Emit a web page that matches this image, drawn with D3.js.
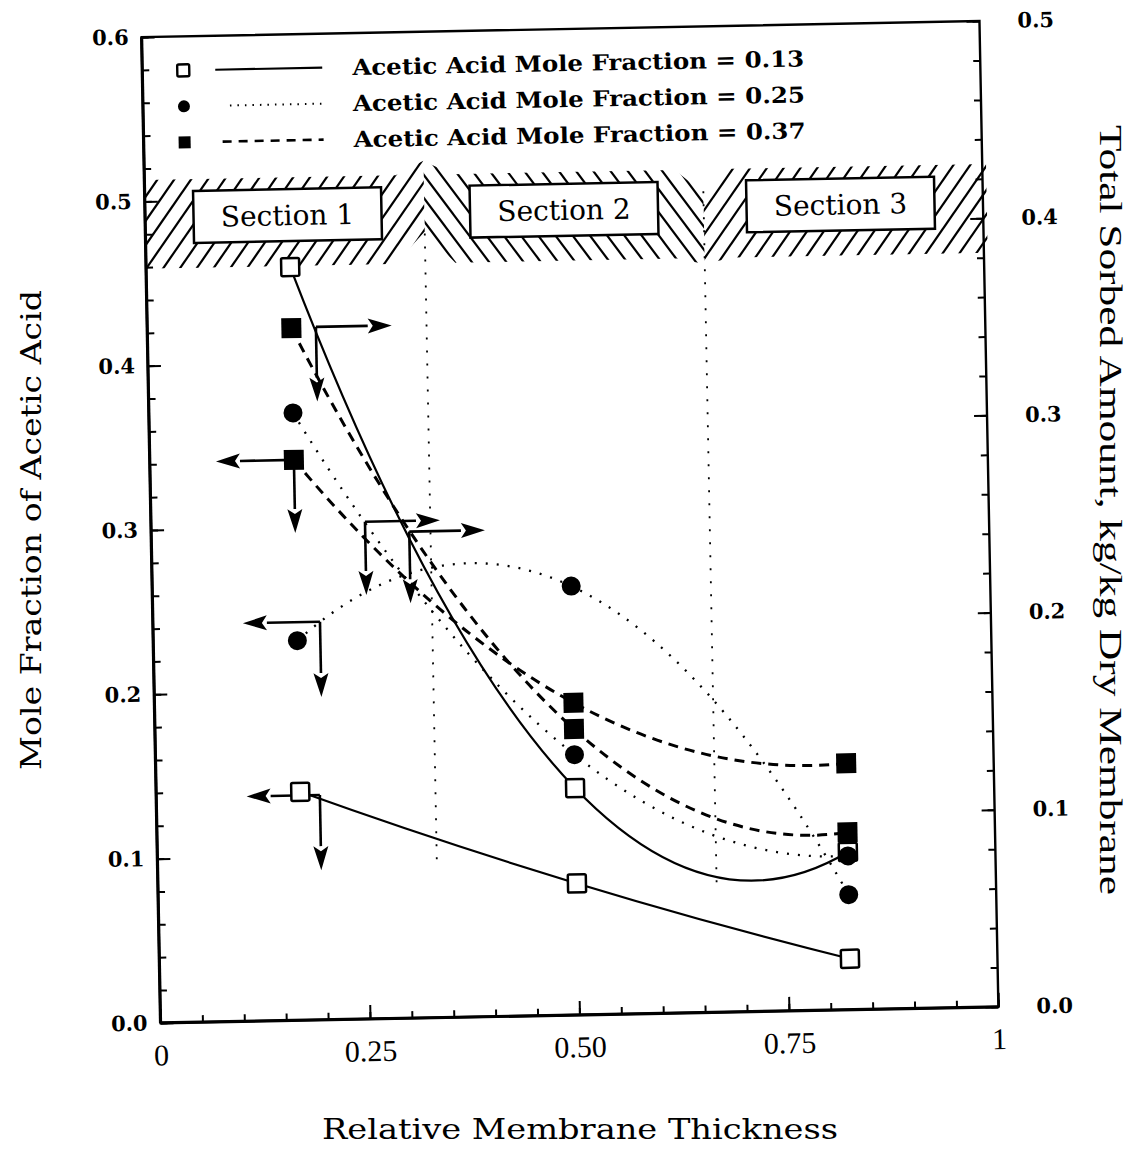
<!DOCTYPE html>
<html>
<head>
<meta charset="utf-8">
<script src="https://cdn.jsdelivr.net/npm/d3@7"></script>
<style>
  html, body { margin: 0; padding: 0; background: #fff; }
  svg { display: block; }
</style>
</head>
<body>
<script>
// ---------------- data ----------------
const relThickness = [0.172, 0.500, 0.824];
// total sorbed amount, kg/kg dry membrane (right axis)
const sorbed013 = [0.382, 0.115, 0.080];
const sorbed025 = [0.308, 0.132, 0.078];
const sorbed037 = [0.351, 0.145, 0.090];
// mole fraction of acetic acid (left axis)
const moleFrac013 = [0.139, 0.080, 0.031];
const moleFrac025 = [0.231, 0.261, 0.070];
const moleFrac037 = [0.341, 0.190, 0.150];

const legendLabels = [
  "Acetic Acid Mole Fraction = 0.13",
  "Acetic Acid Mole Fraction = 0.25",
  "Acetic Acid Mole Fraction = 0.37"
];
const xTickValues = [0, 0.25, 0.5, 0.75, 1];
const xTickLabels = ["0", "0.25", "0.50", "0.75", "1"];
const leftTickValues = [0, 0.1, 0.2, 0.3, 0.4, 0.5, 0.6];
const rightTickValues = [0, 0.1, 0.2, 0.3, 0.4, 0.5];

const sectionNames = ["Section 1", "Section 2", "Section 3"];
const sectionCentres = [0.17, 0.50, 0.83];
const sectionBounds = [1 / 3, 2 / 3];
const boundaryEnds = [0.096, 0.079];   // left-axis value where dotted boundary ends
const bandTop = 0.513, bandBottom = 0.459, sectionLabelLevel = 0.49;

// arrow annotations: corner (x, y on given axis), horizontal tip x, vertical tip y
const arrowNotes = [
  { axis: "R", x: 0.2013, y: 0.3514, hx: 0.2918, vy: 0.3135 },
  { axis: "R", x: 0.3080, y: 0.2467, hx: 0.3983, vy: 0.2104 },
  { axis: "R", x: 0.2554, y: 0.2521, hx: 0.3449, vy: 0.2150 },
  { axis: "L", x: 0.1720, y: 0.3410, hx: 0.0790, vy: 0.2965 },
  { axis: "L", x: 0.1994, y: 0.2422, hx: 0.1074, vy: 0.1964 },
  { axis: "L", x: 0.1953, y: 0.1368, hx: 0.1079, vy: 0.0911 }
];

// ---------------- setup ----------------
const W = 1139, H = 1151;
const svg = d3.select("body").append("svg")
  .attr("width", W).attr("height", H)
  .attr("viewBox", `0 0 ${W} ${H}`);
svg.append("rect").attr("width", W).attr("height", H).attr("fill", "#fff");

const g = svg.append("g").attr("transform", "rotate(-1.1,570,522)");

const x = d3.scaleLinear().domain([0, 1]).range([151, 989]);
const yL = d3.scaleLinear().domain([0, 0.6]).range([1015, 29]);
const yR = d3.scaleLinear().domain([0, 0.5]).range([1015, 29]);

const serif = "'DejaVu Serif', 'Liberation Serif', serif";
const times = "'Liberation Serif', 'DejaVu Serif', serif";

// parabola through three points (quadratic fit curve of the original)
function curveParabola(context) {
  let pts;
  return {
    areaStart() {}, areaEnd() {},
    lineStart() { pts = []; },
    point(px, py) { pts.push([+px, +py]); },
    lineEnd() {
      if (pts.length < 3) {
        pts.forEach((p, i) => i ? context.lineTo(p[0], p[1]) : context.moveTo(p[0], p[1]));
        return;
      }
      const [p0, p1, p2] = pts;
      const t = (p1[0] - p0[0]) / (p2[0] - p0[0]);
      const cx = (p0[0] + p2[0]) / 2;
      const cy = (p1[1] - (1 - t) * (1 - t) * p0[1] - t * t * p2[1]) / (2 * t * (1 - t));
      context.moveTo(p0[0], p0[1]);
      context.quadraticCurveTo(cx, cy, p2[0], p2[1]);
    }
  };
}

// ---------------- hatched section band ----------------
const T = yL(bandTop), B = yL(bandBottom);
const b1 = x(sectionBounds[0]), b2 = x(sectionBounds[1]);
const x0 = x(0), x1 = x(1);
const sectionPolys = [
  [[x0, T], [b1 - 28, T], [b1, T - 14], [b1, B - 32], [b1 - 30, B], [x0, B]],
  [[b1, T - 14], [b1 + 28, T], [b2 - 28, T], [b2, T + 24], [b2, B + 6], [b2 - 28, B], [b1 + 30, B], [b1, B - 32]],
  [[b2, T + 24], [b2 + 28, T], [x1 + 4, T], [x1 + 4, B], [b2 + 28, B], [b2, B + 6]]
];
const defs = svg.append("defs");
sectionPolys.forEach((poly, i) => {
  defs.append("clipPath").attr("id", "sec" + i)
    .append("polygon").attr("points", poly.map(p => p.join(",")).join(" "));
});
const hatchG = g.append("g");
sectionPolys.forEach((poly, i) => {
  const xs = poly.map(p => p[0]);
  const lo = d3.min(xs) - 120, hi = d3.max(xs) + 40;
  const h = (B + 25) - (T - 25);
  const k = 0.72 * h;
  const starts = d3.range(lo, hi, 17);
  hatchG.append("g").attr("clip-path", `url(#sec${i})`)
    .selectAll("line").data(starts).join("line")
    .attr("x1", s => s)
    .attr("y1", i === 1 ? T - 25 : B + 25)
    .attr("x2", s => s + k)
    .attr("y2", i === 1 ? B + 25 : T - 25)
    .attr("stroke", "#000").attr("stroke-width", 2.2);
});

// section boxes
const boxes = g.append("g").selectAll("g").data(sectionNames).join("g")
  .attr("transform", (d, i) => `translate(${x(sectionCentres[i])},${yL(sectionLabelLevel)})`);
boxes.append("rect").attr("x", -94).attr("y", -26).attr("width", 188).attr("height", 52)
  .attr("fill", "#fff").attr("stroke", "#000").attr("stroke-width", 2.5);
boxes.append("text").text(d => d)
  .attr("text-anchor", "middle").attr("y", 10)
  .attr("font-family", serif).attr("font-size", 28).attr("fill", "#000");

// dotted section boundaries
g.append("g").selectAll("line").data(sectionBounds).join("line")
  .attr("x1", d => x(d)).attr("x2", d => x(d))
  .attr("y1", (d, i) => i === 0 ? B - 30 : T + 22)
  .attr("y2", (d, i) => yL(boundaryEnds[i]))
  .attr("stroke", "#000").attr("stroke-width", 1.8)
  .attr("stroke-dasharray", "2,11");

// ---------------- curves ----------------
const series = [
  { vals: sorbed013, scale: yR, type: "open", dash: null, w: 2.2 },
  { vals: sorbed025, scale: yR, type: "circle", dash: "2,9", w: 2.3 },
  { vals: sorbed037, scale: yR, type: "filled", dash: "10,7", w: 3 },
  { vals: moleFrac013, scale: yL, type: "open", dash: null, w: 2.2 },
  { vals: moleFrac025, scale: yL, type: "circle", dash: "2,9", w: 2.3 },
  { vals: moleFrac037, scale: yL, type: "filled", dash: "10,7", w: 3 }
];
const curvesG = g.append("g");
series.forEach(s => {
  const line = d3.line().x((d, i) => x(relThickness[i])).y(d => s.scale(d)).curve(curveParabola);
  curvesG.append("path").attr("d", line(s.vals))
    .attr("fill", "none").attr("stroke", "#000")
    .attr("stroke-width", s.w)
    .attr("stroke-linecap", "butt")
    .attr("stroke-dasharray", s.dash);
});

// ---------------- arrows ----------------
const arrowG = g.append("g");
function arrow(xa, ya, xb, yb) {
  const len = Math.hypot(xb - xa, yb - ya);
  const ux = (xb - xa) / len, uy = (yb - ya) / len;
  const hl = 24, hw = 7.5;
  const bx = xb - ux * hl, by = yb - uy * hl;
  arrowG.append("line").attr("x1", xa).attr("y1", ya).attr("x2", bx).attr("y2", by)
    .attr("stroke", "#000").attr("stroke-width", 2.6);
  arrowG.append("path")
    .attr("d", `M${xb},${yb}L${bx - uy * hw},${by + ux * hw}L${bx + ux * 5},${by + uy * 5}L${bx + uy * hw},${by - ux * hw}Z`)
    .attr("fill", "#000");
}
arrowNotes.forEach(a => {
  const sc = a.axis === "R" ? yR : yL;
  const cx = x(a.x), cy = sc(a.y);
  arrow(cx, cy, x(a.hx), cy);
  arrow(cx, cy, cx, sc(a.vy));
});

// ---------------- markers ----------------
const markG = g.append("g");
const order = ["open", "circle", "filled"];
order.forEach(type => {
  series.filter(s => s.type === type).forEach(s => {
    const pts = s.vals.map((v, i) => [x(relThickness[i]), s.scale(v)]);
    if (type === "open") {
      markG.selectAll(null).data(pts).join("rect")
        .attr("x", d => d[0] - 9).attr("y", d => d[1] - 9)
        .attr("width", 18).attr("height", 18).attr("rx", 1.5)
        .attr("fill", "#fff").attr("stroke", "#000").attr("stroke-width", 2.5);
    } else if (type === "circle") {
      markG.selectAll(null).data(pts).join("circle")
        .attr("cx", d => d[0]).attr("cy", d => d[1]).attr("r", 9.5)
        .attr("fill", "#000");
    } else {
      markG.selectAll(null).data(pts).join("rect")
        .attr("x", d => d[0] - 10).attr("y", d => d[1] - 10)
        .attr("width", 20).attr("height", 20).attr("fill", "#000");
    }
  });
});

// ---------------- frame & axes ----------------
g.append("rect").attr("x", x(0)).attr("y", yL(0.6))
  .attr("width", x(1) - x(0)).attr("height", yL(0) - yL(0.6))
  .attr("fill", "none").attr("stroke", "#000").attr("stroke-width", 2.4);
g.append("line").attr("x1", x(0)).attr("x2", x(0)).attr("y1", yL(0.6)).attr("y2", yL(0))
  .attr("stroke", "#000").attr("stroke-width", 3.2);
g.append("line").attr("x1", x(0)).attr("x2", x(1)).attr("y1", yL(0)).attr("y2", yL(0))
  .attr("stroke", "#000").attr("stroke-width", 3.2);

function styleAxis(sel, family, size, weight) {
  sel.select(".domain").remove();
  sel.selectAll(".tick line").attr("stroke", "#000").attr("stroke-width", 2);
  sel.selectAll(".tick text").attr("font-family", family).attr("font-size", size)
    .attr("font-weight", weight).attr("fill", "#000");
}

// left
g.append("g").attr("transform", `translate(${x(0)},0)`)
  .call(d3.axisLeft(yL).tickValues(d3.range(0, 0.601, 0.02)).tickSize(-7).tickFormat(""))
  .call(s => styleAxis(s, serif, 21, "bold"));
g.append("g").attr("transform", `translate(${x(0)},0)`)
  .call(d3.axisLeft(yL).tickValues(leftTickValues).tickSize(-13).tickPadding(13).tickFormat(d3.format(".1f")))
  .call(s => styleAxis(s, serif, 21, "bold"));
// right
g.append("g").attr("transform", `translate(${x(1)},0)`)
  .call(d3.axisRight(yR).tickValues(d3.range(0, 0.501, 0.02)).tickSize(-7).tickFormat(""))
  .call(s => styleAxis(s, serif, 21, "bold"));
g.append("g").attr("transform", `translate(${x(1)},0)`)
  .call(d3.axisRight(yR).tickValues(rightTickValues).tickSize(-13).tickPadding(38).tickFormat(d3.format(".1f")))
  .call(s => styleAxis(s, serif, 21, "bold"));
// bottom
g.append("g").attr("transform", `translate(0,${yL(0)})`)
  .call(d3.axisBottom(x).tickValues(d3.range(0, 1.001, 0.05)).tickSize(-7).tickFormat(""))
  .call(s => styleAxis(s, times, 30, "normal"));
g.append("g").attr("transform", `translate(0,${yL(0)})`)
  .call(d3.axisBottom(x).tickValues(xTickValues).tickSize(-14).tickPadding(21)
    .tickFormat((d, i) => xTickLabels[i]))
  .call(s => styleAxis(s, times, 30, "normal"));

// ---------------- titles (page coordinates) ----------------
svg.append("text").text("Mole Fraction of Acetic Acid")
  .attr("transform", "translate(41,530) rotate(-90)")
  .attr("text-anchor", "middle").attr("font-family", serif).attr("font-size", 28)
  .attr("textLength", 480).attr("lengthAdjust", "spacingAndGlyphs").attr("fill", "#000");
svg.append("text").text("Total Sorbed Amount, kg/kg Dry Membrane")
  .attr("transform", "translate(1100,510) rotate(90)")
  .attr("text-anchor", "middle").attr("font-family", times).attr("font-size", 32)
  .attr("textLength", 770).attr("lengthAdjust", "spacingAndGlyphs").attr("fill", "#000");
svg.append("text").text("Relative Membrane Thickness")
  .attr("x", 580).attr("y", 1139)
  .attr("text-anchor", "middle").attr("font-family", serif).attr("font-size", 28)
  .attr("textLength", 516).attr("lengthAdjust", "spacingAndGlyphs").attr("fill", "#000");

// ---------------- legend ----------------
const legendRows = [63, 99, 135];
const legendStyles = [
  { type: "open", dash: null, w: 2.2, lx: 224 },
  { type: "circle", dash: "1.5,6", w: 2, lx: 238 },
  { type: "filled", dash: "9,7", w: 2.6, lx: 230 }
];
const leg = g.append("g");
legendLabels.forEach((lab, i) => {
  const yy = legendRows[i], st = legendStyles[i];
  if (st.type === "open") {
    leg.append("rect").attr("x", 186).attr("y", yy - 6).attr("width", 12).attr("height", 12).attr("rx", 1.5)
      .attr("fill", "#fff").attr("stroke", "#000").attr("stroke-width", 2.4);
  } else if (st.type === "circle") {
    leg.append("circle").attr("cx", 192).attr("cy", yy).attr("r", 6).attr("fill", "#000");
  } else {
    leg.append("rect").attr("x", 186).attr("y", yy - 6).attr("width", 12).attr("height", 12).attr("fill", "#000");
  }
  leg.append("line").attr("x1", st.lx).attr("x2", 331).attr("y1", yy).attr("y2", yy)
    .attr("stroke", "#000").attr("stroke-width", st.w).attr("stroke-dasharray", st.dash);
  leg.append("text").text(lab).attr("x", 361).attr("y", yy + 8)
    .attr("font-family", serif).attr("font-weight", "bold").attr("font-size", 22)
    .attr("textLength", 452).attr("lengthAdjust", "spacingAndGlyphs").attr("fill", "#000");
});
</script>
</body>
</html>
